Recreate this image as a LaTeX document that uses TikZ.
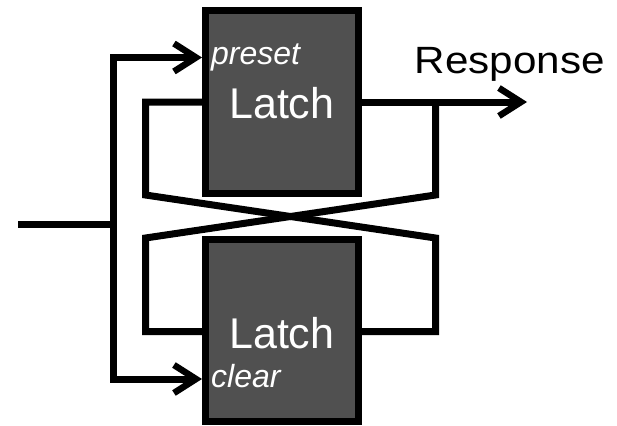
\documentclass[tikz,border=0pt]{standalone}
\usepackage{fontspec}
\setmainfont{Liberation Sans}
\usetikzlibrary{arrows.meta}
\definecolor{boxgray}{HTML}{505050}
\begin{document}
\begin{tikzpicture}[x=1pt,y=-1pt,
  latch/.style={draw=black,fill=boxgray,line width=7pt,inner sep=0pt,minimum width=153pt},
  wire/.style={line width=7pt,line join=miter,line cap=butt},
  arr/.style={-{Straight Barb[length=22pt,width=28pt,line width=6.5pt]}},
  bigtxt/.style={text=white,font=\fontsize{43}{50}\selectfont,inner sep=0pt,anchor=base west},
  smalltxt/.style={text=white,font=\fontsize{32}{38}\selectfont\itshape,inner sep=0pt,anchor=base west}]
\useasboundingbox (0,0) rectangle (617,425);
% latches
\node[latch,minimum height=182.5pt] (L1) at (282,102.25) {};
\node[latch,minimum height=181.5pt] (L2) at (282,330.25) {};
% texts
\node[bigtxt] (t1) at (229,118) {Latch};
\node[bigtxt] (t2) at (229,348) {Latch};
\node[smalltxt] (pre) at (211,65) {preset};
\node[smalltxt] (clr) at (211,387) {clear};
\node[inner sep=0pt,anchor=base west,font=\fontsize{38}{44}\selectfont] (resp) at (414.5,74) {\scalebox{1.11}[1]{Response}};
% coordinates
\coordinate (in) at (18,224);
\coordinate (j) at (113.5,224);
\coordinate (ypre) at (0,57.5);
\coordinate (yclr) at (0,379);
\coordinate (yq1) at (0,102);
\coordinate (yq2) at (0,331.5);
\coordinate (xl) at (145.5,0);
\coordinate (xr) at (435.5,0);
\coordinate (yup) at (0,195);
\coordinate (ydn) at (0,238);
\coordinate (out) at (527,102);
% input
\draw[wire] (in) -- (j);
\draw[wire,arr] (j) |- (L1.west |- ypre);
\draw[wire,arr] (j) |- (L2.west |- yclr);
% cross-coupled loops
\draw[wire] (L1.west |- yq1) -- (xl |- yq1) -- (xl |- yup) -- (xr |- ydn) -- (xr |- yq2) -- (L2.east |- yq2);
\draw[wire] (L2.west |- yq2) -- (xl |- yq2) -- (xl |- ydn) -- (xr |- yup) -- (xr |- yq1);
\draw[wire,arr] (L1.east |- yq1) -- (out);
\end{tikzpicture}
\end{document}
